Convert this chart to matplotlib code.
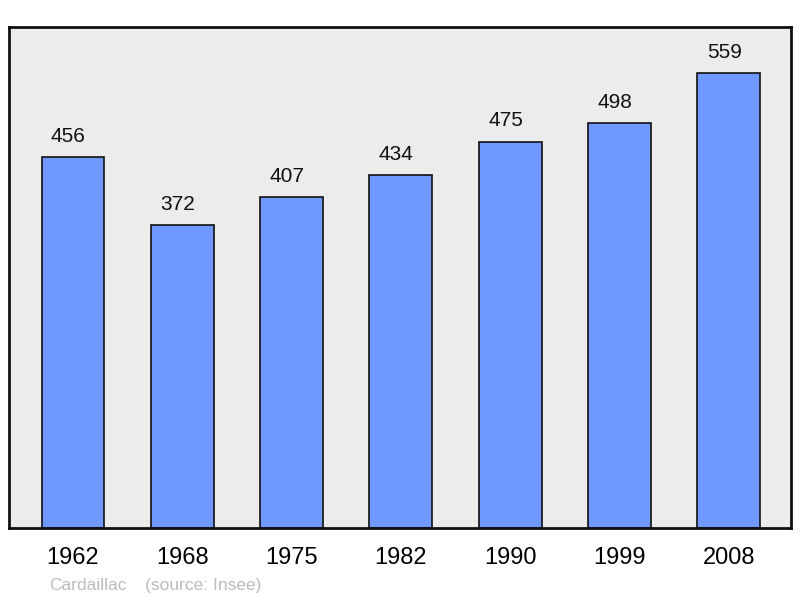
import matplotlib
matplotlib.use("Agg")
import matplotlib.pyplot as plt

# population data
years = ["1962", "1968", "1975", "1982", "1990", "1999", "2008"]
population = [456, 372, 407, 434, 475, 498, 559]

plt.rcParams["font.family"] = ["Liberation Sans", "DejaVu Sans"]

fig = plt.figure(figsize=(8, 5.98), dpi=100)
ax = fig.add_axes([9 / 800, 70 / 598, 782 / 800, 501 / 598])
ax.set_facecolor("#ececec")

x = list(range(len(years)))
ax.bar(x, population, width=0.575, color="#7099ff", edgecolor="#111111", linewidth=1.2, zorder=2)

# value labels sit a little left of the bar centre in the original
for xi, v in zip(x, population):
    ax.annotate(str(v), (xi, v), xytext=(-3.3, 11), textcoords="offset points",
                ha="center", va="baseline", fontsize=15, color="#111111")

ax.set_xlim(-0.585, 6.57)
ax.set_ylim(0, 616)
ax.set_xticks(x)
ax.set_xticklabels(years, fontsize=17)
ax.tick_params(axis="x", length=0, pad=13.5)
ax.set_yticks([])
for s in ax.spines.values():
    s.set_linewidth(2)
    s.set_color("#111111")

fig.text(49 / 800, 8 / 598, "Cardaillac", fontsize=12.5, color="#bbbbbb", va="baseline")
fig.text(145 / 800, 8 / 598, "(source: Insee)", fontsize=12.5, color="#bbbbbb", va="baseline")

fig.savefig("out.png", dpi=100)
